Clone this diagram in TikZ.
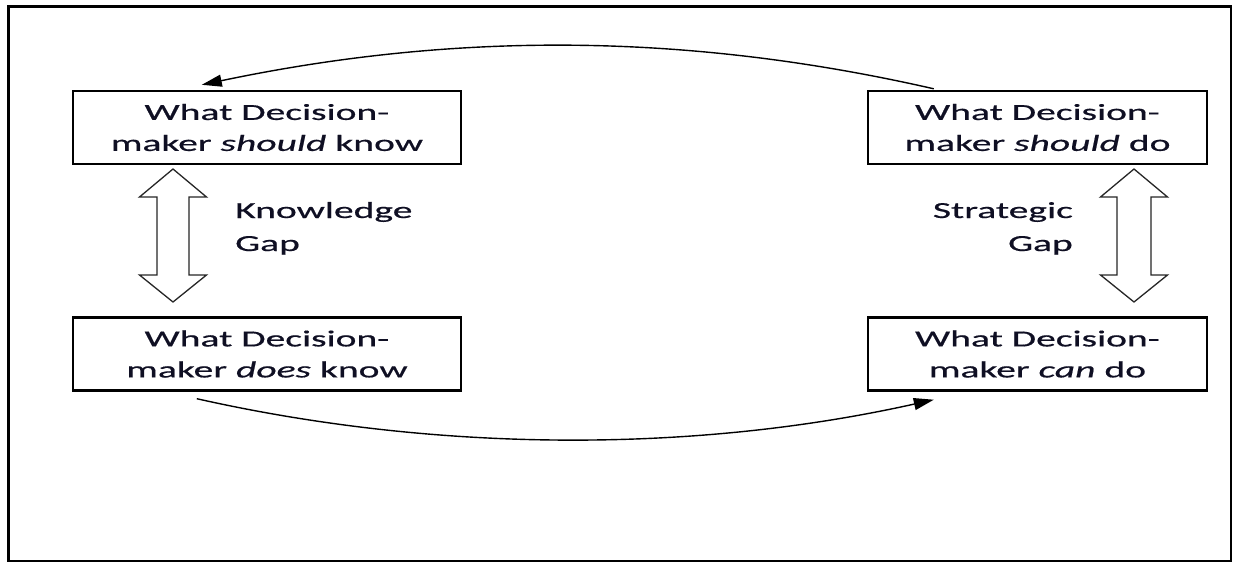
\documentclass[tikz,border=0pt]{standalone}
\usepackage{fontspec}
\setmainfont{Carlito}[FakeStretch=1.72,FakeBold=0.6]
\usetikzlibrary{arrows.meta,calc}
\definecolor{txt}{RGB}{15,15,35}
\begin{document}
\begin{tikzpicture}[x=1pt,y=-1pt,
  box/.style={draw, line width=2.4pt, minimum width=#1, minimum height=73,
    inner sep=0pt, align=center, text=txt, font=\fontsize{23}{31}\selectfont},
  gaplabel/.style={text=txt, font=\fontsize{23}{33}\selectfont, inner sep=0pt},
  flow/.style={line width=1.4pt, -{Triangle[length=20pt,width=12pt]}},
  hollow/.style={draw=black!85, line width=1.3pt, fill=white, line join=miter}]
\useasboundingbox (0,0) rectangle (1235,563);
\draw[line width=2.6pt] (8.5,6.5) rectangle (1231,561);

\node[box=388] (tl) at (267,127.5) {What Decision-\\maker \textit{should} know};
\node[box=339] (tr) at (1037.5,127.5) {What Decision-\\maker \textit{should} do};
\node[box=388] (bl) at (267,354) {What Decision-\\maker \textit{does} know};
\node[box=339] (br) at (1037.5,354) {What Decision-\\maker \textit{can} do};

% double arrows (gaps)
\draw[hollow] (173,169) -- (206.5,197) -- (189,197) -- (189,275) -- (206.5,275)
  -- (173,302) -- (139.5,275) -- (157,275) -- (157,197) -- (139.5,197) -- cycle;
\draw[hollow] (1134,169) -- (1167.5,197) -- (1151,197) -- (1151,275) -- (1167.5,275)
  -- (1134,302) -- (1100.5,275) -- (1117,275) -- (1117,197) -- (1100.5,197) -- cycle;

\node[gaplabel, anchor=base west, align=left] (kg) at (235,251) {Knowledge\\Gap};
\node[gaplabel, anchor=base east, align=right] (sg) at (1073,251) {Strategic\\Gap};

% curved connectors
\coordinate (s1) at ($(tr.north west)+(67,-1)$);
\coordinate (e1) at ($(tl.north west)+(130,-5)$);
\draw[flow] (s1) .. controls (685,32) and (453,32) .. (e1);
\coordinate (s2) at ($(bl.south west)+(125,7)$);
\coordinate (e2) at ($(br.south west)+(67,8)$);
\draw[flow] (s2) .. controls (438,453) and (695,453) .. (e2);
\end{tikzpicture}
\end{document}
